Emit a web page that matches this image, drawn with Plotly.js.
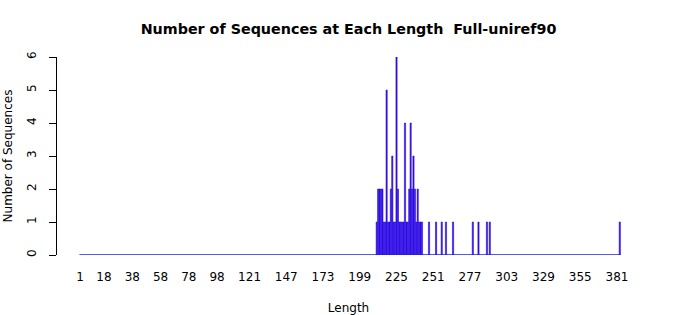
<!DOCTYPE html>
<html>
<head>
<meta charset="utf-8">
<script src="https://cdn.plot.ly/plotly-3.0.1.min.js"></script>
<style>html,body{margin:0;padding:0;background:#fff;}#chart{width:700px;height:315px;}</style>
</head>
<body>
<div id="chart"></div>
<script>
// Sequence lengths with non-zero counts
const lengths = [211,212,213,214,215,216,217,218,219,220,221,222,223,224,225,226,227,228,229,230,
                 231,232,233,234,235,236,237,238,239,240,241,242,243,248,253,257,260,265,279,283,289,291,383];
const counts  = [1,2,2,2,2,1,1,5,1,1,2,3,1,1,6,2,1,1,1,1,
                 4,1,1,2,4,2,3,2,1,2,1,1,1,1,1,1,1,1,1,1,1,1,1];
// full span of lengths shown on the axis (zero-count bars form the baseline)
const lengthRange = [1, 383];
const tickValues = [1,18,38,58,78,98,121,147,173,199,225,251,277,303,329,355,381];
const tickLabels = tickValues.map(String);
const yTicks = [0,1,2,3,4,5,6];

const font = "DejaVu Sans, Liberation Sans, sans-serif";
const barW = 0.83;

const trace = {
  type: 'bar',
  x: lengths,
  y: counts,
  width: barW,
  marker: {color: 'rgb(90,0,185)', line: {color: 'rgb(20,20,255)', width: 0.6}},
  hoverinfo: 'x+y'
};

const layout = {
  width: 700, height: 315,
  margin: {l: 57, r: 60, t: 57, b: 60},
  paper_bgcolor: '#fff', plot_bgcolor: '#fff',
  showlegend: false,
  font: {family: font, size: 12, color: '#000'},
  title: {text: 'Number of Sequences at Each Length\u00a0 Full-uniref90',
          font: {family: font, size: 14.3, color: '#000', weight: 'bold'},
          x: 0.5, xref: 'paper', y: 1 - 29/315, yref: 'container', yanchor: 'middle'},
  xaxis: {
    range: [-15.27, 397.3],
    tickmode: 'array', tickvals: tickValues, ticktext: tickLabels,
    ticks: '', showline: false, showgrid: false, zeroline: false,
    ticklabelstandoff: 13,
    tickfont: {family: font, size: 12, color: '#000'},
    title: {text: 'Length', font: {family: font, size: 12, color: '#000'}, standoff: 21}
  },
  yaxis: {
    range: [0, 6],
    tickmode: 'array', tickvals: yTicks, ticktext: yTicks.map(String),
    ticks: 'outside', ticklen: 7, tickcolor: '#000', tickwidth: 1,
    showline: true, linecolor: '#000', linewidth: 1,
    showgrid: false, zeroline: false, tickangle: -90,
    ticklabelstandoff: 8,
    tickfont: {family: font, size: 12, color: '#000'},
    title: {text: 'Number of Sequences', font: {family: font, size: 12, color: '#000'}, standoff: 10}
  },
  shapes: [{
    type: 'line', xref: 'x', yref: 'y',
    x0: lengthRange[0] - barW/2, x1: lengthRange[1] + barW/2, y0: 0, y1: 0,
    line: {color: 'rgb(30,30,240)', width: 1.4}
  }]
};

Plotly.newPlot('chart', [trace], layout, {displayModeBar: false, staticPlot: true});
</script>
</body>
</html>
